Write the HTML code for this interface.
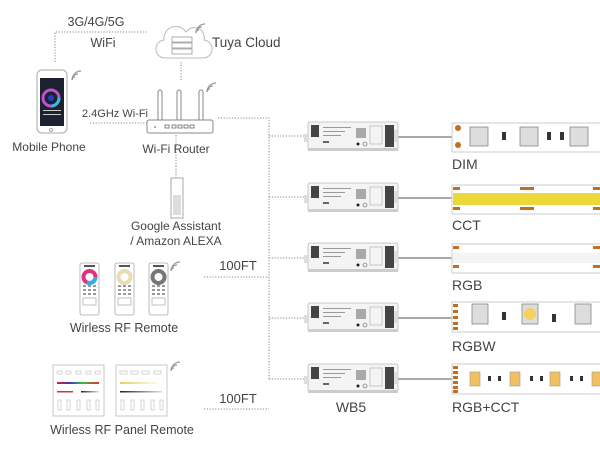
<!DOCTYPE html>
<html><head><meta charset="utf-8"><style>
html,body{margin:0;padding:0;background:#fff;width:600px;height:450px;overflow:hidden}
svg text{font-family:"Liberation Sans",sans-serif;fill:#444}
</style></head><body>
<svg width="600" height="450" viewBox="0 0 600 450" xmlns="http://www.w3.org/2000/svg">
<defs>
<g id="ctrl">
  <rect x="0" y="0" width="90" height="28" rx="2" fill="#f4f4f4" stroke="#bbb" stroke-width="0.8"/>
  <rect x="0" y="26" width="90" height="3" fill="#ccc"/>
  <rect x="3" y="3" width="8" height="12" fill="#444"/>
  <rect x="77" y="3" width="9" height="22" fill="#444"/>
  <rect x="86" y="8" width="4" height="12" fill="#ddd"/>
  <rect x="-4" y="12" width="5" height="8" fill="#ddd"/>
  <rect x="48" y="6" width="10" height="10" fill="#777" opacity="0.6"/>
  <rect x="15" y="5" width="28" height="1" fill="#999"/>
  <rect x="15" y="9" width="22" height="1" fill="#999"/>
  <rect x="15" y="13" width="18" height="1" fill="#999"/>
  <rect x="15" y="19" width="6" height="2" fill="#666"/>
  <rect x="62" y="4" width="12" height="18" fill="none" stroke="#aaa" stroke-width="0.6"/>
  <circle cx="50" cy="22" r="1.5" fill="#222"/>
  <circle cx="57" cy="22" r="2" fill="none" stroke="#555" stroke-width="0.6"/>
</g>
<g id="remote">
  <rect x="0" y="0" width="19" height="52" rx="2" fill="#fff" stroke="#aaa" stroke-width="0.8"/>
  <rect x="4" y="2" width="11" height="2" fill="#555"/>
  <g fill="#999"><rect x="3" y="22" width="3" height="2"/><rect x="8" y="22" width="3" height="2"/><rect x="13" y="22" width="3" height="2"/>
  <rect x="3" y="26" width="3" height="2"/><rect x="8" y="26" width="3" height="2"/><rect x="13" y="26" width="3" height="2"/>
  <rect x="3" y="30" width="3" height="2"/><rect x="8" y="30" width="3" height="2"/><rect x="13" y="30" width="3" height="2"/>
  <rect x="3" y="35" width="13" height="7" fill="none" stroke="#999" stroke-width="0.6"/></g>
</g>
<g id="wifi" fill="none" stroke="#999" stroke-width="1.2">
  <path d="M0 8 a3 3 0 0 1 3 -3"/><path d="M0 8 a6 6 0 0 1 6 -6"/><path d="M0 8 a9 9 0 0 1 9 -9"/>
</g>
</defs>

<g stroke="#888" stroke-width="1" stroke-dasharray="1.2 1.6" fill="none">
  <path d="M55 62 V32 H148"/>
  <path d="M181 62 V80"/>
  <path d="M90 123 H147"/>
  <path d="M176 135 V178"/>
  <path d="M218 118 H269 V380"/>
  <path d="M269 136 H305"/><path d="M269 197 H305"/><path d="M269 258 H305"/><path d="M269 318 H305"/><path d="M269 379 H305"/>
  <path d="M204 277 H269"/><path d="M204 409 H269"/>
</g>

<text x="96" y="26" font-size="12.5" text-anchor="middle">3G/4G/5G</text>
<text x="103" y="47" font-size="12.5" text-anchor="middle">WiFi</text>

<path d="M166 58 a9 9 0 0 1 -2 -18 a12 12 0 0 1 22 -8 a10 10 0 0 1 18 8 a9 9 0 0 1 -2 18 Z" fill="#fff" stroke="#bbb" stroke-width="1"/>
<g fill="#fff" stroke="#999" stroke-width="0.8">
<rect x="172" y="37" width="20" height="5"/><rect x="172" y="43" width="20" height="5"/><rect x="172" y="49" width="20" height="5"/></g>
<use href="#wifi" x="196" y="25"/>
<text x="212" y="47" font-size="13.5">Tuya Cloud</text>

<rect x="37" y="70" width="30" height="63" rx="5" fill="#fff" stroke="#aaa" stroke-width="1"/>
<rect x="40" y="78" width="24" height="48" fill="#1c2230"/>
<circle cx="51" cy="98" r="8" fill="none" stroke="#c050d0" stroke-width="3"/>
<circle cx="51" cy="98" r="8" fill="none" stroke="#30c0e0" stroke-width="3" stroke-dasharray="12 38"/>
<circle cx="51" cy="98" r="3" fill="#2040c0"/>
<rect x="43" y="110" width="18" height="1" fill="#ccc"/><rect x="43" y="114" width="18" height="1" fill="#ccc"/>
<circle cx="51" cy="130" r="1.5" fill="none" stroke="#aaa"/>
<use href="#wifi" x="72" y="72"/>
<text x="49" y="151" font-size="12" text-anchor="middle">Mobile Phone</text>

<g fill="#fff" stroke="#888" stroke-width="1">
<rect x="158" y="90" width="4" height="32" rx="2"/><rect x="177" y="90" width="4" height="32" rx="2"/><rect x="199" y="90" width="4" height="32" rx="2"/>
<rect x="147" y="120" width="66" height="13" rx="2"/>
</g>
<g fill="none" stroke="#666" stroke-width="0.8"><rect x="165" y="125" width="4" height="3"/><rect x="172" y="125" width="4" height="3"/><rect x="178" y="125" width="4" height="3"/><rect x="184" y="125" width="4" height="3"/><rect x="190" y="125" width="4" height="3"/></g>
<circle cx="155" cy="127" r="0.8" fill="#555"/>
<use href="#wifi" x="207" y="84"/>
<text x="82" y="117" font-size="11">2.4GHz Wi-Fi</text>
<text x="176" y="153" font-size="12" text-anchor="middle">Wi-Fi Router</text>

<rect x="171" y="178" width="12" height="40" fill="#fff" stroke="#aaa" stroke-width="1"/>
<rect x="173" y="195" width="8" height="20" fill="#ddd"/>
<text x="176" y="230" font-size="12" text-anchor="middle">Google Assistant</text>
<text x="176" y="245" font-size="12" text-anchor="middle">/ Amazon ALEXA</text>

<use href="#remote" x="80" y="263"/><use href="#remote" x="115" y="263"/><use href="#remote" x="149" y="263"/>
<circle cx="89.5" cy="277" r="6" fill="none" stroke="#e03080" stroke-width="4"/><circle cx="89.5" cy="277" r="6" fill="none" stroke="#30b0e0" stroke-width="4" stroke-dasharray="12 30"/>
<circle cx="124.5" cy="277" r="6" fill="none" stroke="#e8dcb0" stroke-width="4"/>
<circle cx="158.5" cy="277" r="6" fill="none" stroke="#777" stroke-width="4"/>
<use href="#wifi" x="171" y="263"/>
<text x="124" y="332" font-size="12.5" text-anchor="middle">Wirless RF Remote</text>

<rect x="53" y="365" width="51" height="51" fill="#fff" stroke="#bbb" stroke-width="0.8"/>
<rect x="116" y="365" width="51" height="51" fill="#fff" stroke="#bbb" stroke-width="0.8"/>
<defs><linearGradient id="rb"><stop offset="0" stop-color="#e02020"/><stop offset=".3" stop-color="#4030c0"/><stop offset=".6" stop-color="#30c040"/><stop offset="1" stop-color="#e03030"/></linearGradient>
<linearGradient id="wy"><stop offset="0" stop-color="#e8d060"/><stop offset="1" stop-color="#fff"/></linearGradient>
<linearGradient id="bk"><stop offset="0" stop-color="#222"/><stop offset="1" stop-color="#ddd"/></linearGradient></defs>
<rect x="57" y="382" width="42" height="2" fill="url(#rb)"/>
<rect x="57" y="391" width="16" height="1.5" fill="#e03030"/><rect x="81" y="391" width="18" height="1.5" fill="url(#bk)"/>
<rect x="120" y="382" width="42" height="2" fill="url(#wy)"/>
<rect x="120" y="391" width="42" height="1.5" fill="url(#bk)"/>
<g fill="none" stroke="#bbb" stroke-width="0.6">
<rect x="57" y="371" width="5" height="3"/><rect x="66" y="371" width="5" height="3"/><rect x="76" y="371" width="5" height="3"/><rect x="86" y="371" width="5" height="3"/><rect x="95" y="371" width="5" height="3"/>
<rect x="120" y="371" width="7" height="3"/><rect x="131" y="371" width="7" height="3"/><rect x="142" y="371" width="7" height="3"/><rect x="154" y="371" width="7" height="3"/>
<rect x="58" y="400" width="3" height="10"/><rect x="67" y="400" width="3" height="10"/><rect x="77" y="400" width="3" height="10"/><rect x="87" y="400" width="3" height="10"/><rect x="96" y="400" width="3" height="10"/>
<rect x="121" y="400" width="3" height="10"/><rect x="131" y="400" width="3" height="10"/><rect x="141" y="400" width="3" height="10"/><rect x="151" y="400" width="3" height="10"/><rect x="160" y="400" width="3" height="10"/>
</g>
<use href="#wifi" x="171" y="363"/>
<text x="122" y="434" font-size="12.5" text-anchor="middle">Wirless RF Panel Remote</text>

<text x="238" y="270" font-size="13" text-anchor="middle">100FT</text>
<text x="238" y="403" font-size="13" text-anchor="middle">100FT</text>

<g stroke="#555" stroke-width="1">
<line x1="395" y1="137" x2="452" y2="137"/><line x1="395" y1="198" x2="452" y2="198"/><line x1="395" y1="258" x2="452" y2="258"/><line x1="395" y1="318" x2="452" y2="318"/><line x1="395" y1="379" x2="452" y2="379"/>
</g>
<use href="#ctrl" x="308" y="122"/><use href="#ctrl" x="308" y="183"/><use href="#ctrl" x="308" y="243"/><use href="#ctrl" x="308" y="303"/><use href="#ctrl" x="308" y="364"/>

<rect x="452" y="123" width="150" height="29" fill="#fff" stroke="#ccc" stroke-width="1"/>
<circle cx="458" cy="128" r="3" fill="#c07020"/><circle cx="458" cy="145" r="3" fill="#c07020"/>
<g fill="#ddd" stroke="#888" stroke-width="0.8"><rect x="470" y="127" width="18" height="19"/><rect x="520" y="127" width="18" height="19"/><rect x="570" y="127" width="18" height="19"/></g>
<g fill="#333"><rect x="502" y="132" width="4" height="8"/><rect x="547" y="132" width="4" height="8"/><rect x="560" y="132" width="4" height="8"/></g>
<text x="452" y="169" font-size="14">DIM</text>

<rect x="452" y="185" width="150" height="29" fill="#fff" stroke="#ccc" stroke-width="1"/>
<rect x="453" y="193" width="149" height="12" fill="#ecd83a"/>
<g fill="#c07020"><rect x="453" y="187" width="7" height="3"/><rect x="453" y="207" width="7" height="3"/><rect x="520" y="187" width="14" height="3"/><rect x="520" y="207" width="14" height="3"/><rect x="593" y="187" width="7" height="3"/><rect x="593" y="207" width="7" height="3"/></g>
<text x="452" y="230" font-size="14">CCT</text>

<rect x="452" y="244" width="150" height="29" fill="#fff" stroke="#ccc" stroke-width="1"/>
<rect x="453" y="253" width="149" height="10" fill="#f4f4f4"/>
<g fill="#c07020"><rect x="453" y="246" width="6" height="3"/><rect x="453" y="265" width="6" height="3"/><rect x="593" y="246" width="7" height="3"/><rect x="593" y="265" width="7" height="3"/></g>
<text x="452" y="290" font-size="14">RGB</text>

<rect x="452" y="302" width="150" height="30" fill="#fff" stroke="#ccc" stroke-width="1"/>
<g fill="#c07020"><rect x="453" y="304" width="5" height="3"/><rect x="453" y="310" width="5" height="3"/><rect x="453" y="316" width="5" height="3"/><rect x="453" y="322" width="5" height="3"/><rect x="453" y="327" width="5" height="3"/></g>
<g fill="#ddd" stroke="#888" stroke-width="0.8"><rect x="472" y="304" width="16" height="20"/><rect x="522" y="304" width="16" height="20"/><rect x="575" y="304" width="16" height="20"/></g>
<circle cx="530" cy="314" r="6" fill="#f6d060"/>
<g fill="#333"><rect x="502" y="312" width="4" height="8"/><rect x="552" y="314" width="4" height="8"/></g>
<text x="452" y="351" font-size="14">RGBW</text>

<rect x="452" y="364" width="150" height="30" fill="#fff" stroke="#ccc" stroke-width="1"/>
<g fill="#c07020"><rect x="453" y="366" width="5" height="3"/><rect x="453" y="371" width="5" height="3"/><rect x="453" y="376" width="5" height="3"/><rect x="453" y="381" width="5" height="3"/><rect x="453" y="386" width="5" height="3"/><rect x="453" y="390" width="5" height="3"/></g>
<g fill="#f0c060" stroke="#999" stroke-width="0.6"><rect x="470" y="372" width="10" height="14"/><rect x="510" y="372" width="10" height="14"/><rect x="550" y="372" width="10" height="14"/><rect x="592" y="372" width="10" height="14"/></g>
<g fill="#333"><rect x="488" y="376" width="3" height="5"/><rect x="498" y="376" width="3" height="5"/><rect x="530" y="376" width="3" height="5"/><rect x="540" y="376" width="3" height="5"/><rect x="570" y="376" width="3" height="5"/><rect x="580" y="376" width="3" height="5"/></g>
<text x="452" y="412" font-size="14">RGB+CCT</text>

<text x="351" y="412" font-size="14" text-anchor="middle">WB5</text>
</svg>
</body></html>
